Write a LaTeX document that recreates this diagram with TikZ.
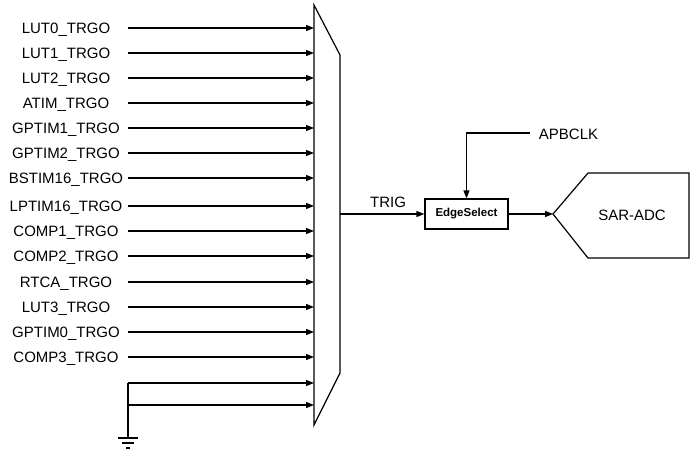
\documentclass[tikz,border=0pt]{standalone}
\usepackage{fontspec}
\setmainfont{Liberation Sans}
\usetikzlibrary{arrows.meta}
\begin{document}
\begin{tikzpicture}[x=1pt,y=-1pt,line width=1.2pt,
  arr/.style={-{Triangle[length=8pt,width=6pt]}},
  lbl/.style={font=\fontsize{15}{18}\selectfont},
  inlbl/.style={font=\fontsize{15}{18}\selectfont}]
\useasboundingbox (0,0) rectangle (700,461);
\draw (314,5) -- (340,55) -- (340,373) -- (314,425) -- cycle;
\foreach \n/\t/\y in {i0/LUT0\_TRGO/28,i1/LUT1\_TRGO/53,i2/LUT2\_TRGO/78,i3/ATIM\_TRGO/103,i4/GPTIM1\_TRGO/128,i5/GPTIM2\_TRGO/153,i6/BSTIM16\_TRGO/178,i7/LPTIM16\_TRGO/206,i8/COMP1\_TRGO/231,i9/COMP2\_TRGO/256,i10/RTCA\_TRGO/282,i11/LUT3\_TRGO/307,i12/GPTIM0\_TRGO/332,i13/COMP3\_TRGO/357}{
  \node[inlbl] (\n) at (66,\y+1.5) {\t};
  \coordinate (\n s) at (128,\y);
  \coordinate (\n e) at (314,\y);
  \draw[arr] (\n s) -- (\n e);
}
\coordinate (g1) at (128,383); \coordinate (g1e) at (314,383);
\coordinate (g2) at (128,405); \coordinate (g2e) at (314,405);
\coordinate (gnd) at (128,438);
\draw[arr] (g1) -- (g1e);
\draw[arr] (g2) -- (g2e);
\draw (g1) -- (gnd);
\draw (118,438) -- (138,438);
\draw (122,443) -- (134,443);
\draw (126,448) -- (130,448);
\node[draw,minimum width=83pt,minimum height=30pt,font=\bfseries\fontsize{11.5}{13}\selectfont,inner sep=0pt] (es) at (466.5,214) {EdgeSelect};
\coordinate (trig) at (340,214);
\draw[arr] (trig) -- (es.west);
\node[lbl] (tl) at (388,202) {TRIG};
\node[lbl,anchor=west] (apb) at (535,134) {APBCLK};
\draw[arr] (530,133) -| (es.north);
\coordinate (adcin) at (553,214);
\draw (adcin) -- (588,173) -- (689,173) -- (689,258) -- (588,258) -- cycle;
\node[lbl] (adc) at (632,215) {SAR-ADC};
\draw[arr] (es.east) -- (adcin);
\end{tikzpicture}
\end{document}
